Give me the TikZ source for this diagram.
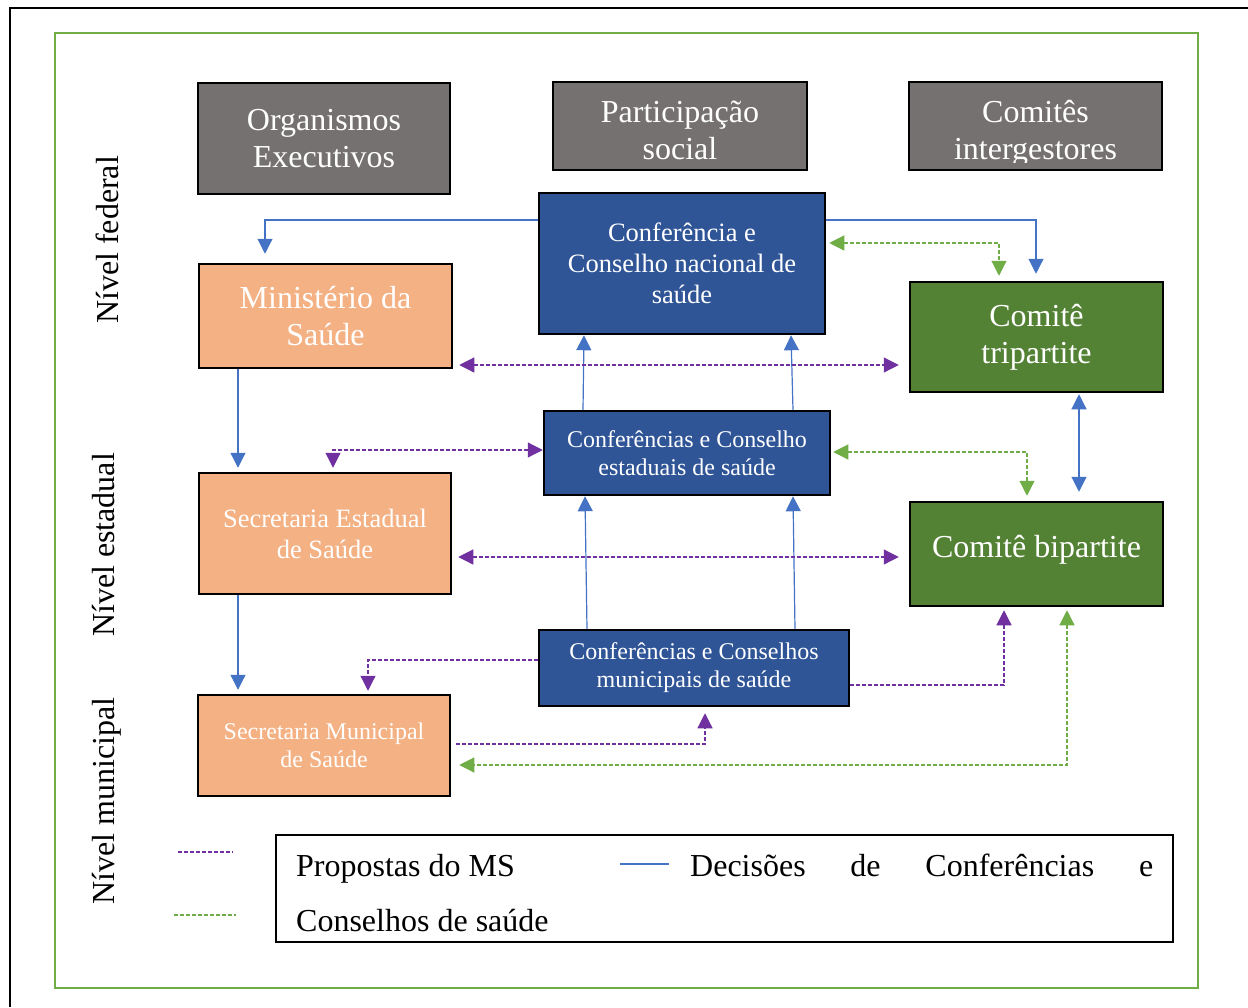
\documentclass[tikz,border=0pt]{standalone}
\usepackage{fontspec}
\setmainfont{Liberation Serif}
\usetikzlibrary{arrows.meta,calc}
\definecolor{boxgray}{RGB}{118,113,113}
\definecolor{boxblue}{RGB}{47,85,151}
\definecolor{boxorange}{RGB}{244,177,131}
\definecolor{boxgreen}{RGB}{84,130,53}
\definecolor{lineblue}{RGB}{68,114,196}
\definecolor{linepurple}{RGB}{112,48,160}
\definecolor{linegreen}{RGB}{112,173,71}
\begin{document}
\begin{tikzpicture}[x=1pt,y=-1pt,
  box/.style={draw=black,line width=2.5pt,text=white,align=center,inner sep=0pt},
  big/.style={font=\fontsize{32}{37}\selectfont},
  mid/.style={font=\fontsize{26.5}{31}\selectfont},
  small/.style={font=\fontsize{24}{28}\selectfont},
  decision/.style={draw=lineblue,line width=1.2pt},
  proposal/.style={draw=linepurple,line width=1.2pt,dash pattern=on 4pt off 2pt},
  council/.style={draw=linegreen,line width=1.2pt,dash pattern=on 4pt off 2pt},
  arr/.style={-{Triangle[length=15pt,width=15pt]}},
  darr/.style={{Triangle[length=15pt,width=15pt]}-{Triangle[length=15pt,width=15pt]}},
]
\useasboundingbox (0,0) rectangle (1248,1007);

% frames
\draw[black,line width=2pt] (1248,8) -- (10,8) -- (10,1007);
\draw[linegreen,line width=2.8pt] (55,33) rectangle (1198,988);

% column headers
\node[box,fill=boxgray,big,minimum width=252pt,minimum height=111pt] (org) at (324,138.5) {Organismos\\Executivos};
\node[box,fill=boxgray,minimum width=254pt,minimum height=88pt] (part) at (680,126) {};
\node[big,text=white,align=center] (parttext) at (680,130) {Participação\\social};
\node[box,fill=boxgray,minimum width=253pt,minimum height=88pt] (comi) at (1035.5,126) {};
\begin{scope}
  \clip (911,83) rectangle (1161,162);
  \node[big,text=white,align=center] (comitext) at (1035.5,133) {Comitês\\intergestores};
\end{scope}

% federal level
\node[box,fill=boxblue,mid,minimum width=286pt,minimum height=141pt] (nac) at (682,263.5) {Conferência e\\Conselho nacional de\\saúde};
\node[box,fill=boxorange,big,minimum width=253pt,minimum height=104pt] (min) at (325.5,316) {Ministério da\\Saúde};
\node[box,fill=boxgreen,big,minimum width=253pt,minimum height=110pt] (tri) at (1036.5,337) {Comitê\\tripartite};

% state level
\node[box,fill=boxblue,small,minimum width=286pt,minimum height=84pt] (est) at (687,453) {Conferências e Conselho\\estaduais de saúde};
\node[box,fill=boxorange,mid,minimum width=252pt,minimum height=121pt] (sest) at (325,533.5) {Secretaria Estadual\\de Saúde};
\node[box,fill=boxgreen,big,minimum width=253pt,minimum height=104pt,text depth=15pt] (bi) at (1036.5,554) {Comitê bipartite};

% municipal level
\node[box,fill=boxblue,small,minimum width=310pt,minimum height=76pt] (mun) at (694,668) {Conferências e Conselhos\\municipais de saúde};
\node[box,fill=boxorange,small,minimum width=252pt,minimum height=101pt] (smun) at (324,745.5) {Secretaria Municipal\\de Saúde};

% level labels
\node[big,rotate=90] (lfed) at (107,240) {Nível federal};
\node[big,rotate=90] (lest) at (104,545) {Nível estadual};
\node[big,rotate=90] (lmun) at (107,801) {Nível municipal};

% decisions of conferences and councils
\draw[decision,arr,shorten >=9pt] (nac.west |- 0,220) -| (min.north -| 265,0);
\draw[decision,arr,shorten >=7pt] (nac.east |- 0,220) -| (tri.north -| 1036,0);
\draw[decision,arr,shorten >=4pt] (min.south -| 238,0) -- (sest.north -| 238,0);
\draw[decision,arr,shorten >=4pt] (sest.south -| 238,0) -- (smun.north -| 238,0);
\draw[decision,arr] (est.north -| 583,0) -- (nac.south -| 584,0);
\draw[decision,arr] (est.north -| 793,0) -- (nac.south -| 791,0);
\draw[decision,arr] (mun.north -| 587,0) -- (est.south -| 585,0);
\draw[decision,arr] (mun.north -| 795,0) -- (est.south -| 793,0);
\draw[decision,darr,shorten <=1pt,shorten >=9pt] (tri.south -| 1079,0) -- (bi.north -| 1079,0);

% proposals of the ministry
\draw[proposal,darr,shorten <=6pt,shorten >=10pt] (min.east |- 0,365) -- (tri.west |- 0,365);
\draw[proposal,darr,shorten >=4pt] (est.west |- 0,450) -| (sest.north -| 333,0);
\draw[proposal,darr,shorten <=6pt,shorten >=10pt] (sest.east |- 0,557) -- (bi.west |- 0,557);
\draw[proposal,arr,shorten >=3pt] (mun.west |- 0,660) -| (smun.north -| 368,0);
\draw[proposal,arr,shorten <=5pt,shorten >=6pt] (smun.east |- 0,744) -| (mun.south -| 705,0);
\draw[proposal,arr,shorten >=3pt] (mun.east |- 0,685) -| (bi.south -| 1004,0);

% councils
\draw[council,darr,shorten <=3pt,shorten >=5pt] (nac.east |- 0,243) -| (tri.north -| 999,0);
\draw[council,darr,shorten <=2pt,shorten >=5pt] (est.east |- 0,452) -| (bi.north -| 1027,0);
\draw[council,darr,shorten <=3pt,shorten >=8pt] (bi.south -| 1067,0) |- (smun.east |- 0,765);

% legend
\coordinate (pA) at (178,852); \coordinate (pB) at (233,852);
\coordinate (gA) at (174,915); \coordinate (gB) at (236,915);
\draw[proposal] (pA) -- (pB);
\draw[council] (gA) -- (gB);
\node[draw=black,line width=1.5pt,minimum width=897pt,minimum height=107pt,inner sep=0pt] (legend) at (724.5,888.5) {};
\coordinate (bA) at (620,864); \coordinate (bB) at (669,864);
\draw[decision] (bA) -- (bB);
\node[big,anchor=base west,inner sep=0pt] (lt1) at (296,876) {Propostas do MS};
\node[big,anchor=base west,inner sep=0pt,text width=463pt] (lt2) at (690,876) {Decisões\hfill de\hfill Conferências\hfill e};
\node[big,anchor=base west,inner sep=0pt] (lt3) at (296,931) {Conselhos de saúde};
\end{tikzpicture}
\end{document}
